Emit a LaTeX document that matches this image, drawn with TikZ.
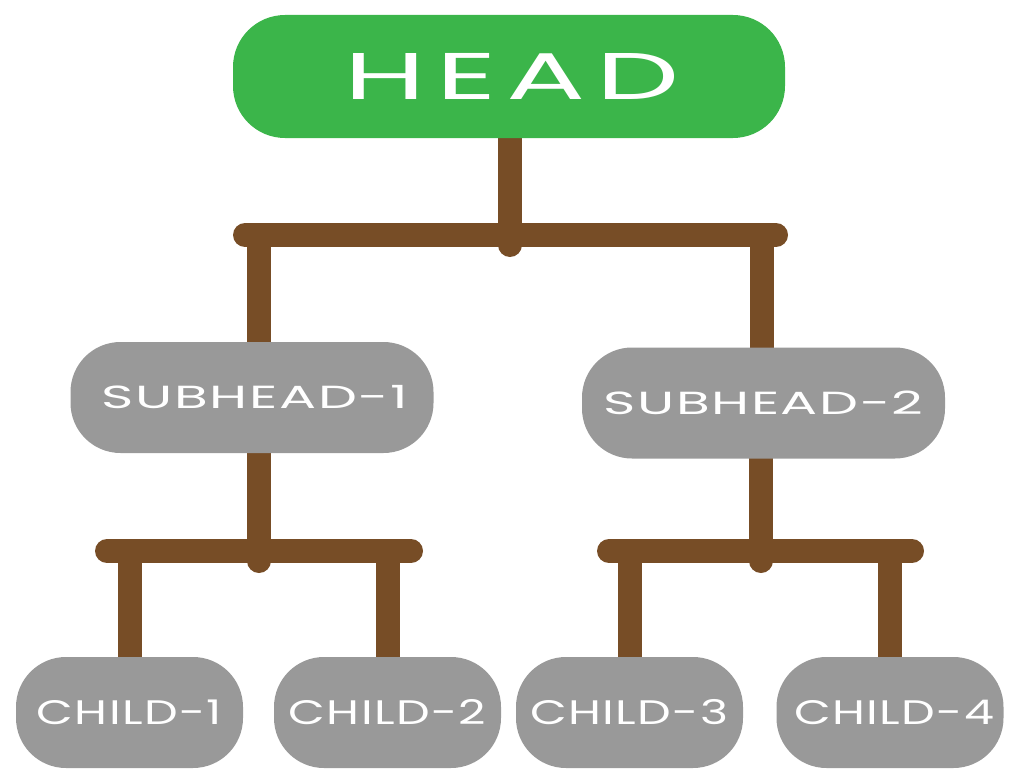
\documentclass[tikz,border=0pt]{standalone}
\usepackage{fontspec}
\usetikzlibrary{backgrounds}
\newfontfamily\headfont[FakeStretch=1.78,LetterSpace=16]{Poppins}
\newfontfamily\subfont[FakeStretch=1.72,LetterSpace=5]{Poppins}
\newfontfamily\childfont[FakeStretch=1.4,LetterSpace=4]{Poppins}
\definecolor{headgreen}{HTML}{3BB54A}
\definecolor{boxgray}{HTML}{999999}
\definecolor{barbrown}{HTML}{774D26}
\begin{document}
\begin{tikzpicture}[x=1pt,y=-1pt,
  headbox/.style={fill=headgreen,rounded corners=52pt,minimum width=552pt,minimum height=123pt,
    inner sep=0pt,text=white,font=\headfont\fontsize{66}{66}\selectfont},
  subbox/.style={fill=boxgray,rounded corners=50pt,minimum width=363pt,minimum height=111pt,
    inner sep=0pt,text=white,font=\subfont\fontsize{32}{32}\selectfont},
  childbox/.style={fill=boxgray,rounded corners=50pt,minimum width=227pt,minimum height=111pt,
    inner sep=0pt,text=white,font=\childfont\fontsize{34}{34}\selectfont},
  bar/.style={draw=barbrown,line width=24pt,line cap=round}]
\useasboundingbox (0,0) rectangle (1015,784);
% nodes
\node[headbox] (head) at (509,76.5) {\hspace{6pt}HEAD};
\node[subbox] (sub1) at (252,397.5) {\raisebox{-3pt}{\hspace{6pt}SUBHEAD-1}};
\node[subbox] (sub2) at (763.5,403) {\raisebox{1.5pt}{SUBHEAD-2}};
\node[childbox] (c1) at (129.5,712.5) {CHILD-1};
\node[childbox] (c2) at (387.5,712.5) {CHILD-2};
\node[childbox] (c3) at (629.5,712.5) {CHILD-3};
\node[childbox] (c4) at (890,712.5) {\hspace{8pt}CHILD-4};
% junction coordinates
\coordinate (t0) at (510,245);
\coordinate (b0l) at (245,235);
\coordinate (b0r) at (776,235);
\coordinate (v1) at (259,235);
\coordinate (v2) at (762,235);
\coordinate (t1) at (259,561);
\coordinate (t2) at (761,561);
\coordinate (b1l) at (107,551);
\coordinate (b1r) at (411,551);
\coordinate (b2l) at (609,551);
\coordinate (b2r) at (912,551);
% connectors, behind the boxes
\begin{pgfonlayer}{background}
\draw[bar] (head.center -| t0) -- (t0);
\draw[bar] (b0l) -- (b0r);
\draw[bar] (v1) -- (v1 |- sub1.center);
\draw[bar] (v2) -- (v2 |- sub2.center);
\draw[bar] (sub1.center -| t1) -- (t1);
\draw[bar] (sub2.center -| t2) -- (t2);
\draw[bar] (b1l) -- (b1r);
\draw[bar] (b2l) -- (b2r);
\draw[bar] (c1.center) -- (c1.center |- b1l);
\draw[bar] (c2.center) -- (c2.center |- b1l);
\draw[bar] (c3.center) -- (c3.center |- b2l);
\draw[bar] (c4.center) -- (c4.center |- b2l);
\end{pgfonlayer}
\end{tikzpicture}
\end{document}
